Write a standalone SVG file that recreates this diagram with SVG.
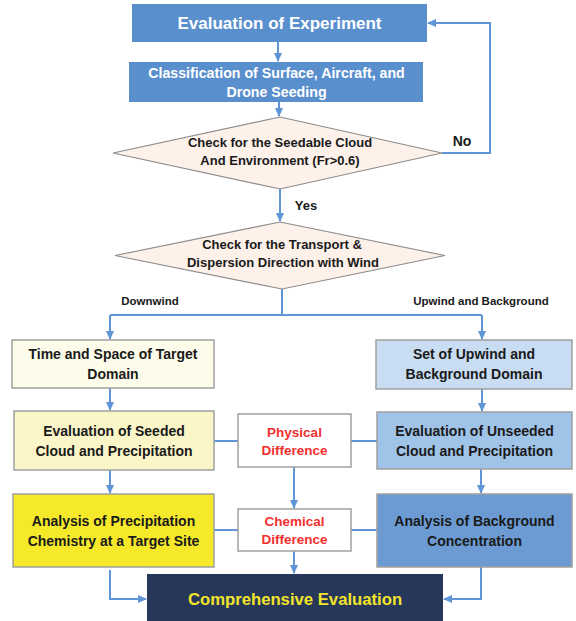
<svg xmlns="http://www.w3.org/2000/svg" width="576" height="621" viewBox="0 0 576 621">
<style>
text{font-family:"Liberation Sans",Arial,sans-serif;font-weight:bold;text-anchor:middle}
.t{font-size:14px;fill:#1a1a1a}
.w{fill:#ffffff}
.r{font-size:13.5px;fill:#f2302e}
.lbl{font-size:11.5px;fill:#1a1a1a}
.box{stroke:#a0a0a0;stroke-width:1.5}
.dia{fill:#fdf1ea;stroke:#8c8c8c;stroke-width:1.2}
.c{fill:none;stroke:#5f95d6;stroke-width:2}
</style>
<defs>
<marker id="ah" markerWidth="9" markerHeight="8" refX="8" refY="4" orient="auto" markerUnits="userSpaceOnUse">
<path d="M0,0 L9,4 L0,8 z" fill="#5f95d6"/>
</marker>
</defs>

<g id="connectors">
<path class="c" d="M278,42 V61" marker-end="url(#ah)"/>
<path class="c" d="M279,102 V116" marker-end="url(#ah)"/>
<path class="c" d="M442,153 H490 V23 H428" marker-end="url(#ah)"/>
<path class="c" d="M280,189 V221" marker-end="url(#ah)"/>
<path class="c" d="M282,289 V315"/>
<path class="c" d="M110,315 H482"/>
<path class="c" d="M110,315 V339" marker-end="url(#ah)"/>
<path class="c" d="M482,315 V339" marker-end="url(#ah)"/>
<path class="c" d="M110,388 V410" marker-end="url(#ah)"/>
<path class="c" d="M482,389 V411" marker-end="url(#ah)"/>
<path class="c" d="M110,470 V493" marker-end="url(#ah)"/>
<path class="c" d="M481,469 V493" marker-end="url(#ah)"/>
<path class="c" d="M214,441 H238"/>
<path class="c" d="M351,441 H377"/>
<path class="c" d="M214,530 H238"/>
<path class="c" d="M351,530 H377"/>
<path class="c" d="M294,467 V508" marker-end="url(#ah)"/>
<path class="c" d="M294,551 V573" marker-end="url(#ah)"/>
<path class="c" d="M110,570 V599 H146" marker-end="url(#ah)"/>
<path class="c" d="M481,567 V599 H444" marker-end="url(#ah)"/>
</g>

<g id="evaluation-of-experiment">
<rect x="132" y="4" width="295" height="38" fill="#5a8fcd"/>
<text x="279.5" y="29" class="w" style="font-size:17px">Evaluation of Experiment</text>
</g>

<g id="classification">
<rect x="129" y="62" width="294" height="40" fill="#5a8fcd"/>
<text x="276.5" y="78" class="w" style="font-size:14.2px">Classification of Surface, Aircraft, and</text>
<text x="276.5" y="97" class="w" style="font-size:14.2px">Drone Seeding</text>
</g>

<g id="check-seedable">
<polygon class="dia" points="280,117 442,153 280,189 113,153"/>
<text x="280" y="147" class="t" style="font-size:13px">Check for the Seedable Cloud</text>
<text x="280" y="165" class="t" style="font-size:13px">And Environment (Fr&gt;0.6)</text>
</g>

<g id="label-no"><text x="462" y="146" class="t" style="font-size:14px">No</text></g>
<g id="label-yes"><text x="306" y="210" class="t" style="font-size:13px">Yes</text></g>

<g id="check-transport">
<polygon class="dia" points="280,222 445,255.5 282,289 115,255.5"/>
<text x="282" y="249" class="t" style="font-size:13px">Check for the Transport &amp;</text>
<text x="283" y="267" class="t" style="font-size:13px">Dispersion Direction with Wind</text>
</g>

<g id="label-downwind"><text x="150" y="305" class="lbl">Downwind</text></g>
<g id="label-upwind"><text x="481" y="305" class="lbl">Upwind and Background</text></g>

<g id="target-domain">
<rect x="12" y="340" width="202" height="48" fill="#fdfbe9" class="box"/>
<text x="113" y="359" class="t">Time and Space of Target</text>
<text x="113" y="379" class="t">Domain</text>
</g>

<g id="upwind-domain">
<rect x="376" y="340" width="196" height="49" fill="#c8dcf2" class="box"/>
<text x="474" y="359" class="t">Set of Upwind and</text>
<text x="474" y="379" class="t">Background Domain</text>
</g>

<g id="seeded">
<rect x="14" y="411" width="200" height="59" fill="#fbf6c8" class="box"/>
<text x="114" y="436" class="t">Evaluation of Seeded</text>
<text x="114" y="456" class="t">Cloud and Precipitation</text>
</g>

<g id="physical-difference">
<rect x="238" y="414" width="113" height="53" fill="#ffffff" class="box"/>
<text x="294.5" y="437" class="r">Physical</text>
<text x="294.5" y="455" class="r">Difference</text>
</g>

<g id="unseeded">
<rect x="377" y="412" width="195" height="57" fill="#a0c3e8" class="box"/>
<text x="474.5" y="436" class="t">Evaluation of Unseeded</text>
<text x="474.5" y="456" class="t">Cloud and Precipitation</text>
</g>

<g id="precip-chemistry">
<rect x="13" y="494" width="201" height="73" fill="#f5e92a" class="box"/>
<text x="113.5" y="526" class="t">Analysis of Precipitation</text>
<text x="113.5" y="546" class="t">Chemistry at a Target Site</text>
</g>

<g id="chemical-difference">
<rect x="238" y="509" width="113" height="42" fill="#ffffff" class="box"/>
<text x="294.5" y="526" class="r">Chemical</text>
<text x="294.5" y="544" class="r">Difference</text>
</g>

<g id="background-concentration">
<rect x="377" y="494" width="195" height="73" fill="#6c9bd3" class="box"/>
<text x="474.5" y="526" class="t">Analysis of Background</text>
<text x="474.5" y="546" class="t">Concentration</text>
</g>

<g id="comprehensive">
<rect x="147" y="574" width="296" height="50" fill="#27375a"/>
<text x="295" y="605" style="font-size:16.7px;fill:#f2e52b">Comprehensive Evaluation</text>
</g>
</svg>
